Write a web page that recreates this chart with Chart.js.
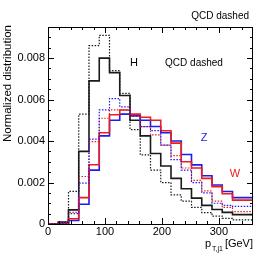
<!DOCTYPE html>
<html>
<head>
<meta charset="utf-8">
<script src="https://cdn.jsdelivr.net/npm/chart.js@4.4.0/dist/chart.umd.min.js"></script>
<style>
  html, body { margin: 0; padding: 0; background: #fff; }
  #wrap { width: 266px; height: 261px; }
</style>
</head>
<body>
<div id="wrap"><canvas id="c"></canvas></div>
<script>
// bin edges in GeV (18 GeV bins)
const binEdges = [0,18,36,54,72,90,108,126,144,162,180,198,216,234,252,270,288,306,324,342,360];

// normalized distributions, one value per bin
const hSignal = [0,0,0.0001,0.00068,0.0035,0.0069,0.0080,0.0073,0.0062,0.0050,0.00425,0.0034,0.0028,0.0022,0.0017,0.00125,0.0009,0.0007,0.00056,0.00045];
const hQcd    = [0,0,0.00008,0.00157,0.0053,0.0086,0.0091,0.0074,0.0063,0.00455,0.00333,0.0026,0.0020,0.0014,0.0011,0.0008,0.00055,0.00038,0.00027,0.0002];
const wSignal = [0,0,0.00003,0.00025,0.00127,0.00286,0.0044,0.00527,0.0055,0.0053,0.00515,0.0050,0.0045,0.0039,0.0030,0.0027,0.0022,0.0018,0.00146,0.00115];
const wQcd    = [0,0,0.00003,0.00056,0.00229,0.00397,0.0051,0.0055,0.0055,0.0052,0.0047,0.0043,0.0038,0.0033,0.0027,0.0021,0.0016,0.0011,0.0008,0.0006];
const zSignal = [0,0,0.00003,0.00017,0.00095,0.0026,0.00425,0.0050,0.0053,0.00522,0.0050,0.0047,0.0044,0.0040,0.00335,0.00285,0.00233,0.00188,0.00157,0.00127];
const zQcd    = [0,0,0.00003,0.0005,0.00197,0.00409,0.0055,0.00605,0.00565,0.0052,0.0047,0.0045,0.0038,0.0031,0.0026,0.0020,0.0015,0.0010,0.0009,0.00085];

// axes
const xMajorTicks = [0,100,200,300];
const xMinorTicks = [20,40,60,80,120,140,160,180,220,240,260,280,320,340];
const yMajorTicks = [0,0.002,0.004,0.006,0.008];
const yTickLabels = ['0','0.002','0.004','0.006','0.008'];
const yMinorTicks = [0.0005,0.001,0.0015,0.0025,0.003,0.0035,0.0045,0.005,0.0055,0.0065,0.007,0.0075,0.0085,0.009];

const FONT = '"Liberation Sans", Arial, sans-serif';
const RED = '#ee1c1c', BLUE = '#1c1ced', BLACK = '#1a1a1a';

// stepped outline of a histogram
function hist(vals) {
  const pts = vals.map((v, i) => ({ x: binEdges[i], y: v }));
  pts.push({ x: binEdges[binEdges.length - 1], y: vals[vals.length - 1] });
  return pts;
}
function ds(vals, color, dashed) {
  return {
    data: hist(vals), stepped: 'after', borderColor: color,
    borderWidth: dashed ? 1.2 : 1.6, borderDash: dashed ? [1.5, 1.5] : [],
    pointRadius: 0, fill: false, tension: 0
  };
}

const frame = {
  id: 'frame',
  afterDraw(chart) {
    const { ctx, chartArea: a, scales: { x, y } } = chart;
    ctx.save();
    ctx.strokeStyle = '#000';
    ctx.lineWidth = 1;
    ctx.strokeRect(a.left + 0.5, a.top + 0.5, a.right - a.left - 1, a.bottom - a.top);
    ctx.beginPath();
    const xt = (v, len) => {
      const px = Math.round(x.getPixelForValue(v)) + 0.5;
      ctx.moveTo(px, a.bottom); ctx.lineTo(px, a.bottom - len);
      ctx.moveTo(px, a.top); ctx.lineTo(px, a.top + len);
    };
    const yt = (v, len) => {
      const py = Math.round(y.getPixelForValue(v)) + 0.5;
      ctx.moveTo(a.left, py); ctx.lineTo(a.left + len, py);
      ctx.moveTo(a.right, py); ctx.lineTo(a.right - len, py);
    };
    xMajorTicks.forEach(v => xt(v, 6));
    xMinorTicks.forEach(v => xt(v, 3));
    yMajorTicks.forEach(v => yt(v, 6));
    yMinorTicks.forEach(v => yt(v, 3));
    ctx.stroke();

    ctx.fillStyle = '#000';
    ctx.font = '11px ' + FONT;
    ctx.textBaseline = 'middle';
    ctx.textAlign = 'right';
    yMajorTicks.forEach((v, i) => ctx.fillText(yTickLabels[i], a.left - 3, y.getPixelForValue(v)));
    ctx.textAlign = 'center';
    ctx.textBaseline = 'top';
    xMajorTicks.forEach(v => ctx.fillText(String(v), x.getPixelForValue(v), a.bottom + 2));

    // x title with subscript
    ctx.textBaseline = 'alphabetic';
    ctx.textAlign = 'left';
    ctx.font = '11px ' + FONT;
    ctx.fillText('p', 205, 247);
    ctx.font = '7px ' + FONT;
    ctx.fillText('T,j1', 212, 251);
    ctx.font = '11px ' + FONT;
    ctx.textAlign = 'right';
    ctx.fillText('[GeV]', a.right, 247);

    // y title
    ctx.save();
    ctx.translate(10.5, a.top - 2);
    ctx.rotate(-Math.PI / 2);
    ctx.textAlign = 'right';
    ctx.font = '11.5px ' + FONT;
    ctx.fillText('Normalized distribution', 0, 0);
    ctx.restore();

    // annotations
    ctx.font = '10px ' + FONT;
    ctx.textAlign = 'right';
    ctx.fillText('QCD dashed', 249, 19);
    ctx.textAlign = 'center';
    ctx.fillText('QCD dashed', 194, 66);
    ctx.font = '11px ' + FONT;
    ctx.fillText('H', 134, 66);
    ctx.fillStyle = BLUE;
    ctx.fillText('Z', 204, 141);
    ctx.fillStyle = RED;
    ctx.fillText('W', 235, 177);
    ctx.restore();
  }
};

new Chart(document.getElementById('c'), {
  type: 'line',
  data: {
    datasets: [
      ds(hQcd, BLACK, true),
      ds(zQcd, BLUE, true),
      ds(wQcd, RED, true),
      ds(wSignal, RED, false),
      ds(zSignal, BLUE, false),
      ds(hSignal, BLACK, false)
    ]
  },
  options: {
    responsive: true,
    maintainAspectRatio: false,
    animation: false,
    layout: { padding: { top: 27, right: 13, left: 0, bottom: 0 } },
    plugins: { legend: { display: false }, tooltip: { enabled: false } },
    scales: {
      x: {
        type: 'linear', min: 0, max: 360,
        ticks: { display: false }, grid: { display: false }, border: { display: false },
        afterFit: s => { s.height = 37; }
      },
      y: {
        min: 0, max: 0.0095,
        ticks: { display: false }, grid: { display: false }, border: { display: false },
        afterFit: s => { s.width = 48; }
      }
    }
  },
  plugins: [frame]
});
</script>
</body>
</html>
